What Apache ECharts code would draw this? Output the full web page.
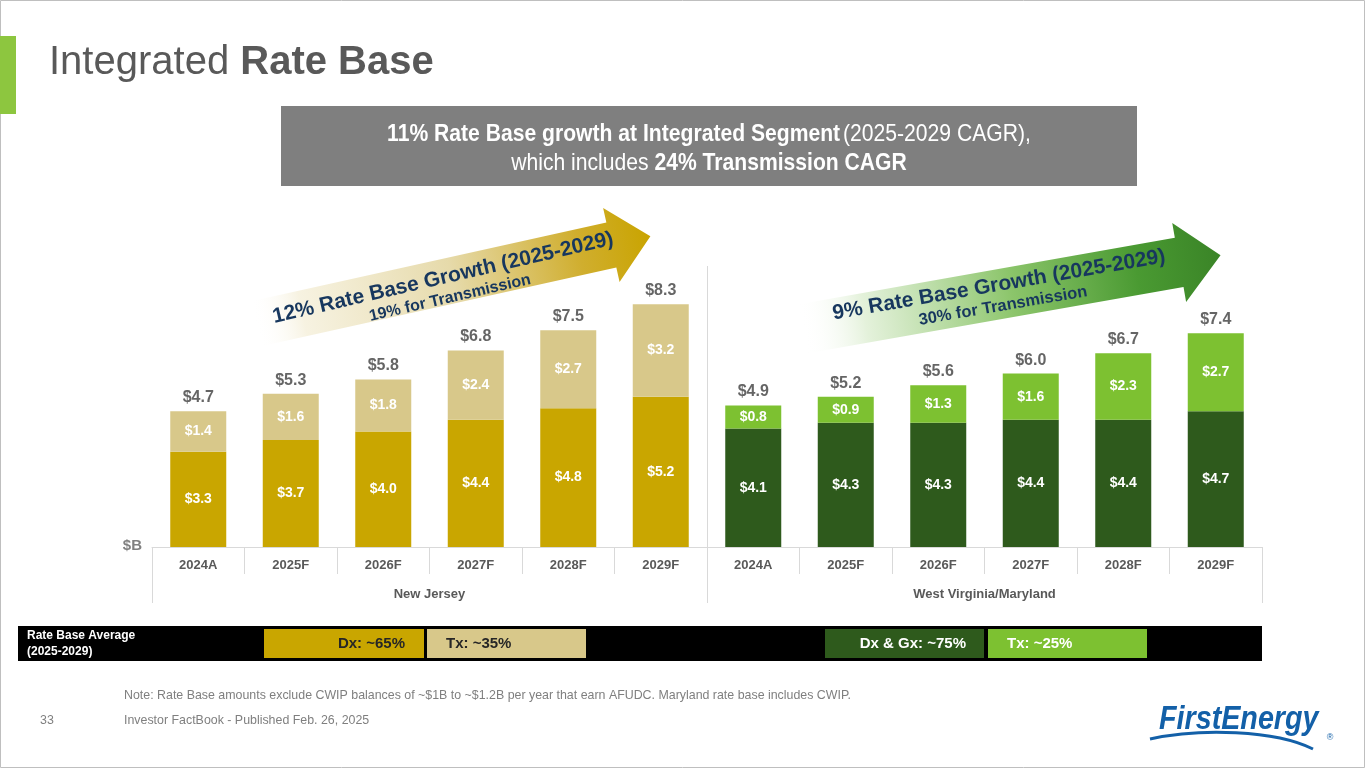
<!DOCTYPE html>
<html>
<head>
<meta charset="utf-8">
<script src="https://cdn.jsdelivr.net/npm/echarts@6/dist/echarts.min.js"></script>
<style>
html,body{margin:0;padding:0;background:#fff;}
#c{width:1365px;height:768px;}
</style>
</head>
<body>
<div id="c"></div>
<script>
// ---- data ----
const years = ['2024A', '2025F', '2026F', '2027F', '2028F', '2029F'];
const regions = ['New Jersey', 'West Virginia/Maryland'];
const njDx = [3.3, 3.7, 4.0, 4.4, 4.8, 5.2];
const njTx = [1.4, 1.6, 1.8, 2.4, 2.7, 3.2];
const njTotal = [4.7, 5.3, 5.8, 6.8, 7.5, 8.3];
const wvDx = [4.1, 4.3, 4.3, 4.4, 4.4, 4.7];
const wvTx = [0.8, 0.9, 1.3, 1.6, 2.3, 2.7];
const wvTotal = [4.9, 5.2, 5.6, 6.0, 6.7, 7.4];

// ---- build ----
const categories = years.concat(years);
const blank = years.map(() => '-');
const njDxData = njDx.concat(blank);
const njTxData = njTx.concat(blank);
const wvDxData = blank.concat(wvDx);
const wvTxData = blank.concat(wvTx);
const totals = njTotal.concat(wvTotal);
const stackTops = njDx.map((v, i) => +(v + njTx[i]).toFixed(2))
  .concat(wvDx.map((v, i) => +(v + wvTx[i]).toFixed(2)));

const SANS = "'Liberation Sans', Arial, sans-serif";

const inLabel = {
  show: true, position: 'inside', color: '#ffffff', fontFamily: SANS,
  fontWeight: 'bold', fontSize: 14,
  formatter: p => '$' + Number(p.value).toFixed(1)
};

function arrow(L, headLen, sw, hw) {
  return [[0, -sw], [L - headLen, -sw], [L - headLen, -hw], [L, 0],
          [L - headLen, hw], [L - headLen, sw], [0, sw]];
}
const deg = Math.PI / 180;

const chart = echarts.init(document.getElementById('c'));
chart.setOption({
  animation: false,
  backgroundColor: '#ffffff',
  grid: { left: 152, right: 103, top: 258, bottom: 221 },
  xAxis: [{
    type: 'category', data: categories, position: 'bottom',
    axisLine: { show: true, lineStyle: { color: '#d9d9d9', width: 1 } },
    axisTick: { show: true, length: 27, lineStyle: { color: '#d9d9d9' } },
    axisLabel: { margin: 12, fontSize: 13, fontWeight: 'bold', color: '#595959', fontFamily: SANS }
  }, {
    type: 'category', data: regions, position: 'bottom',
    axisLine: { show: false },
    axisTick: { show: true, length: 56, lineStyle: { color: '#d9d9d9' } },
    axisLabel: { margin: 41, fontSize: 13, fontWeight: 'bold', color: '#595959', fontFamily: SANS }
  }],
  yAxis: { type: 'value', min: 0, max: 10, show: false, splitLine: { show: false } },
  series: [
    { name: 'NJ Dx', type: 'bar', stack: 'rb', barWidth: 56, data: njDxData,
      itemStyle: { color: '#C9A600' }, label: inLabel },
    { name: 'NJ Tx', type: 'bar', stack: 'rb', barWidth: 56, data: njTxData,
      itemStyle: { color: '#D8C88A' }, label: inLabel },
    { name: 'WV Dx', type: 'bar', stack: 'rb', barWidth: 56, data: wvDxData,
      itemStyle: { color: '#2E5A1C' }, label: inLabel },
    { name: 'WV Tx', type: 'bar', stack: 'rb', barWidth: 56, data: wvTxData,
      itemStyle: { color: '#7DC131' }, label: inLabel },
    { name: 'Total', type: 'scatter', data: stackTops, symbolSize: 1, z: 5,
      itemStyle: { color: 'rgba(0,0,0,0)' },
      label: { show: true, position: 'top', distance: 5, color: '#3F3F3F',
        fontFamily: SANS, fontWeight: 'bold', fontSize: 16,
        formatter: p => '$' + totals[p.dataIndex].toFixed(1) } }
  ],
  graphic: [
    // slide border
    { type: 'rect', shape: { x: 0.5, y: 0.5, width: 1364, height: 767 },
      style: { fill: 'none', stroke: '#bfbfbf', lineWidth: 1 }, silent: true },
    // green accent bar
    { type: 'rect', shape: { x: 0, y: 36, width: 16, height: 78 }, style: { fill: '#8DC63F' } },
    // title
    { type: 'text', x: 49, y: 63, style: {
        text: '{r|Integrated }{b|Rate Base}', textVerticalAlign: 'middle',
        rich: {
          r: { fontSize: 40, fontFamily: SANS, color: '#595959', fill: '#595959' },
          b: { fontSize: 40, fontFamily: SANS, fontWeight: 'bold', color: '#595959', fill: '#595959' }
        } } },
    // gray box
    { type: 'rect', shape: { x: 281, y: 106, width: 856, height: 80 }, style: { fill: '#7F7F7F' } },
    { type: 'text', x: 709, y: 134, scaleX: 0.88, style: {
        text: '{b|11% Rate Base growth at Integrated Segment} {r|(2025-2029 CAGR),}',
        textAlign: 'center', textVerticalAlign: 'middle',
        rich: {
          b: { fontSize: 24, fontFamily: SANS, fontWeight: 'bold', color: '#fff', fill: '#fff' },
          r: { fontSize: 24, fontFamily: SANS, color: '#fff', fill: '#fff' }
        } } },
    { type: 'text', x: 709, y: 163, scaleX: 0.88, style: {
        text: '{r|which includes }{b|24% Transmission CAGR}',
        textAlign: 'center', textVerticalAlign: 'middle',
        rich: {
          b: { fontSize: 24, fontFamily: SANS, fontWeight: 'bold', color: '#fff', fill: '#fff' },
          r: { fontSize: 24, fontFamily: SANS, color: '#fff', fill: '#fff' }
        } } },
    // NJ arrow
    { type: 'polygon', x: 255, y: 324, rotation: 12.5 * deg, z: 0,
      shape: { points: arrow(405, 40, 23, 38) },
      style: { fill: { type: 'linear', x: 0, y: 0, x2: 1, y2: 0, colorStops: [
        { offset: 0, color: 'rgba(255,255,255,0)' },
        { offset: 0.12, color: 'rgba(246,241,222,0.9)' },
        { offset: 0.5, color: '#E6DAAA' },
        { offset: 0.82, color: '#D0AE2E' },
        { offset: 1, color: '#C9A400' } ] } } },
    { type: 'text', x: 443, y: 278, rotation: 13 * deg, z: 1, style: {
        text: '12% Rate Base Growth (2025-2029)', textAlign: 'center', textVerticalAlign: 'middle',
        fontSize: 21, fontWeight: 'bold', fontFamily: SANS, fill: '#17375E' } },
    { type: 'text', x: 450, y: 298, rotation: 13 * deg, z: 1, style: {
        text: '19% for Transmission', textAlign: 'center', textVerticalAlign: 'middle',
        fontSize: 16, fontWeight: 'bold', fontFamily: SANS, fill: '#17375E' } },
    // WV arrow
    { type: 'polygon', x: 802, y: 329, rotation: 10 * deg, z: 0,
      shape: { points: arrow(425, 42, 25, 40) },
      style: { fill: { type: 'linear', x: 0, y: 0, x2: 1, y2: 0, colorStops: [
        { offset: 0, color: 'rgba(255,255,255,0)' },
        { offset: 0.15, color: 'rgba(225,240,215,0.9)' },
        { offset: 0.5, color: '#8CC56B' },
        { offset: 0.8, color: '#4A9A32' },
        { offset: 1, color: '#3A8427' } ] } } },
    { type: 'text', x: 999, y: 285, rotation: 9.8 * deg, z: 1, style: {
        text: '9% Rate Base Growth (2025-2029)', textAlign: 'center', textVerticalAlign: 'middle',
        fontSize: 21, fontWeight: 'bold', fontFamily: SANS, fill: '#17375E' } },
    { type: 'text', x: 1003, y: 306, rotation: 9.8 * deg, z: 1, style: {
        text: '30% for Transmission', textAlign: 'center', textVerticalAlign: 'middle',
        fontSize: 16.5, fontWeight: 'bold', fontFamily: SANS, fill: '#17375E' } },
    // region separator
    { type: 'line', shape: { x1: 707.5, y1: 266, x2: 707.5, y2: 547 },
      style: { stroke: '#d9d9d9', lineWidth: 1 } },
    // $B
    { type: 'text', x: 142, y: 546, style: { text: '$B', textAlign: 'right', textVerticalAlign: 'middle',
        fontSize: 15, fontWeight: 'bold', fontFamily: SANS, fill: '#808080' } },
    // black bar
    { type: 'rect', shape: { x: 18, y: 626, width: 1244, height: 35 }, style: { fill: '#000' } },
    { type: 'text', x: 27, y: 636, style: { text: 'Rate Base Average', textVerticalAlign: 'middle',
        fontSize: 12, fontWeight: 'bold', fontFamily: SANS, fill: '#fff' } },
    { type: 'text', x: 27, y: 652, style: { text: '(2025-2029)', textVerticalAlign: 'middle',
        fontSize: 12, fontWeight: 'bold', fontFamily: SANS, fill: '#fff' } },
    { type: 'rect', shape: { x: 264, y: 629, width: 160, height: 29 }, style: { fill: '#C9A600' } },
    { type: 'rect', shape: { x: 427, y: 629, width: 159, height: 29 }, style: { fill: '#D8C88A' } },
    { type: 'rect', shape: { x: 825, y: 629, width: 159, height: 29 }, style: { fill: '#2E5A1C' } },
    { type: 'rect', shape: { x: 988, y: 629, width: 159, height: 29 }, style: { fill: '#7DC131' } },
    { type: 'text', x: 405, y: 644, style: { text: 'Dx: ~65%', textAlign: 'right', textVerticalAlign: 'middle',
        fontSize: 15, fontWeight: 'bold', fontFamily: SANS, fill: '#262626' } },
    { type: 'text', x: 446, y: 644, style: { text: 'Tx: ~35%', textVerticalAlign: 'middle',
        fontSize: 15, fontWeight: 'bold', fontFamily: SANS, fill: '#262626' } },
    { type: 'text', x: 966, y: 644, style: { text: 'Dx & Gx: ~75%', textAlign: 'right', textVerticalAlign: 'middle',
        fontSize: 15, fontWeight: 'bold', fontFamily: SANS, fill: '#ffffff' } },
    { type: 'text', x: 1007, y: 644, style: { text: 'Tx: ~25%', textVerticalAlign: 'middle',
        fontSize: 15, fontWeight: 'bold', fontFamily: SANS, fill: '#ffffff' } },
    // note and footer
    { type: 'text', x: 124, y: 696, style: {
        text: 'Note: Rate Base amounts exclude CWIP balances of ~$1B to ~$1.2B per year that earn AFUDC. Maryland rate base includes CWIP.',
        textVerticalAlign: 'middle', fontSize: 12.4, fontFamily: SANS, fill: '#7F7F7F' } },
    { type: 'text', x: 40, y: 721, style: { text: '33', textVerticalAlign: 'middle',
        fontSize: 12.4, fontFamily: SANS, fill: '#7F7F7F' } },
    { type: 'text', x: 124, y: 721, style: { text: 'Investor FactBook - Published Feb. 26, 2025', textVerticalAlign: 'middle',
        fontSize: 12.4, fontFamily: SANS, fill: '#7F7F7F' } },
    // logo
    { type: 'text', x: 1159, y: 720, scaleX: 0.87, style: { text: 'FirstEnergy', textVerticalAlign: 'middle',
        fontSize: 33, fontWeight: 'bold', fontStyle: 'italic', fontFamily: SANS, fill: '#1360A8' } },
    { type: 'bezierCurve', shape: { x1: 1150, y1: 739, cpx1: 1200, cpy1: 728, cpx2: 1275, cpy2: 730, x2: 1313, y2: 749 },
      style: { stroke: '#1360A8', lineWidth: 3, fill: 'none' } },
    { type: 'text', x: 1330, y: 738, style: { text: '®', textAlign: 'center', textVerticalAlign: 'middle',
        fontSize: 9, fontFamily: SANS, fill: '#1360A8' } }
  ]
});
</script>
</body>
</html>
